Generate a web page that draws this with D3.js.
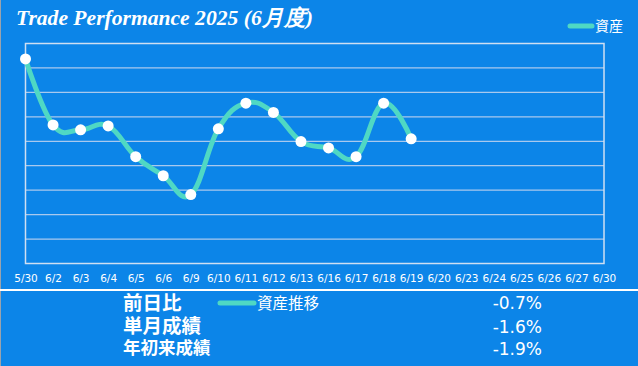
<!DOCTYPE html>
<html><head><meta charset="utf-8">
<script src="https://cdn.jsdelivr.net/npm/d3@7"></script>
<style>html,body{margin:0;padding:0;background:#0c85e8;overflow:hidden}</style>
</head><body>
<script>
const categories = ["5/30","6/2","6/3","6/4","6/5","6/6","6/9","6/10","6/11","6/12","6/13","6/16","6/17","6/18","6/19","6/20","6/23","6/24","6/25","6/26","6/27","6/30"];
const assetValues = [8.37,5.67,5.47,5.63,4.37,3.59,2.82,5.51,6.56,6.18,4.99,4.73,4.37,6.56,5.10];
const yTicks = [0,1,2,3,4,5,6,7,8,9];
const titleText = "Trade Performance 2025 (6月度)";
const legendLabel = "資産";
const summaryLabels = ["前日比","単月成績","年初来成績"];
const summaryValues = ["-0.7%","-1.6%","-1.9%"];
const summaryLegend = "資産推移";

(function(){
const W = 638, H = 366;
const bg = "#0c85e8", lineColor = "#4fd8c4", gridColor = "#a9c9ee";
const svg = d3.select("body").append("svg").attr("width", W).attr("height", H);
svg.append("rect").attr("width", W).attr("height", H).attr("fill", bg);
svg.append("line").attr("x1",0.5).attr("x2",0.5).attr("y1",0).attr("y2",H).attr("stroke","#9aa3ad").attr("stroke-width",1);

const pl = 25.5, pr = 604, pt = 43.5, pb = 263.5;
const x = d3.scalePoint().domain(categories).range([pl, pr]).padding(0);
const y = d3.scaleLinear().domain([0, 9]).range([pb, pt]);

// grid
svg.append("g").selectAll("line").data(yTicks.slice(1, -1)).join("line")
  .attr("x1", pl).attr("x2", pr).attr("y1", d => y(d)).attr("y2", d => y(d))
  .attr("stroke", gridColor).attr("stroke-width", 1.2);
svg.append("rect").attr("x", pl).attr("y", pt).attr("width", pr-pl).attr("height", pb-pt)
  .attr("fill","none").attr("stroke","#cfdff2").attr("stroke-width",1.5);

// x axis labels
const xAxis = d3.axisBottom(x).tickSize(0).tickPadding(0);
const gx = svg.append("g").attr("transform", `translate(0,${pb})`).call(xAxis);
gx.select(".domain").remove();
gx.selectAll("text").attr("fill","#ffffff").attr("font-family","'DejaVu Sans', sans-serif")
  .attr("font-size","10.5px").attr("dy",null).attr("y",18);

// line
const data = assetValues.map((v,i) => ({c: categories[i], v}));
const line = d3.line().x(d => x(d.c)).y(d => y(d.v)).curve(d3.curveCardinal.tension(-0.2));
svg.append("path").datum(data).attr("d", line).attr("fill","none")
  .attr("stroke", lineColor).attr("stroke-width", 5).attr("stroke-linejoin","round").attr("stroke-linecap","round");
svg.append("g").selectAll("circle").data(data).join("circle")
  .attr("cx", d => x(d.c)).attr("cy", d => y(d.v)).attr("r", 5.5).attr("fill","#ffffff");

// title
svg.append("text").attr("x", 16).attr("y", 25).text(titleText)
  .attr("fill","#ffffff").attr("font-family","'Liberation Serif', serif").attr("font-style","italic")
  .attr("font-weight","bold").attr("font-size","21.6px");

// top legend
svg.append("line").attr("x1", 570).attr("x2", 592).attr("y1", 26).attr("y2", 26)
  .attr("stroke", lineColor).attr("stroke-width", 5).attr("stroke-linecap","round");
svg.append("text").attr("x", 595).attr("y", 31).text(legendLabel).attr("fill","#ffffff")
  .attr("font-family","'Noto Sans CJK JP', sans-serif").attr("font-size","14px");

// separator
svg.append("line").attr("x1",0).attr("x2",W).attr("y1",290).attr("y2",290).attr("stroke","#ffffff").attr("stroke-width",2.2);

// summary labels as one multi-line text block
const labelY = [303, 326, 348], labelSize = [19.5, 19.5, 17.5];
svg.append("text").attr("fill","#ffffff").attr("font-weight","bold")
  .attr("font-family","'Noto Sans CJK JP', sans-serif")
  .selectAll("tspan").data(summaryLabels).join("tspan")
  .attr("x", 123).attr("y", (d,i) => labelY[i]).attr("dy","0.36em").text(d => d)
  .attr("font-size", (d,i) => labelSize[i] + "px");
svg.append("line").attr("x1", 220).attr("x2", 254).attr("y1", 303).attr("y2", 303)
  .attr("stroke", lineColor).attr("stroke-width", 5).attr("stroke-linecap","round");
svg.append("text").attr("x", 257).attr("y", 303).attr("dy","0.36em").text(summaryLegend).attr("fill","#ffffff")
  .attr("font-family","'Noto Sans CJK JP', sans-serif").attr("font-size","15.5px");
const valY = [303, 327, 349];
svg.append("g").selectAll("text").data(summaryValues).join("text")
  .attr("x", 542).attr("y", (d,i) => valY[i]).attr("dy","0.36em").attr("text-anchor","end").text(d => d)
  .attr("fill","#ffffff").attr("font-family","'DejaVu Sans', sans-serif").attr("font-size","17px");
})();
</script>
</body></html>
